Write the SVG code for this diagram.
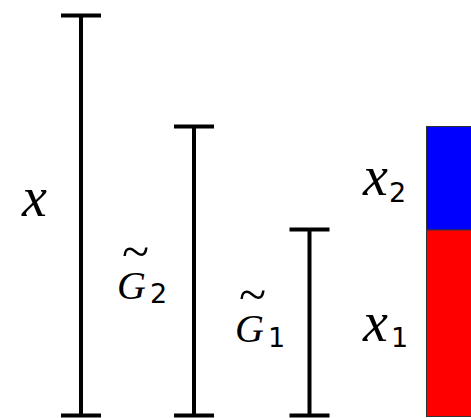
<svg xmlns="http://www.w3.org/2000/svg" width="471" height="418" viewBox="0 0 471 418">
<rect width="471" height="418" fill="#fff"/>
<g id="connectors" stroke="#000" stroke-width="4" fill="none">
<g id="bar-x"><path d="M61 15.5H101M81 15.5V415.5M61 415.5H101"/></g>
<g id="bar-G2"><path d="M174 126.5H214M194 126.5V415.5M174 415.5H214"/></g>
<g id="bar-G1"><path d="M289.5 229.5H329.5M309.5 229.5V415.5M289.5 415.5H329.5"/></g>
</g>
<text id="label-x" x="22" y="216" font-size="56" font-family="Liberation Serif, serif" font-style="italic">x</text>
<text id="label-G2" font-family="Liberation Serif, serif" font-size="40"><tspan x="122" y="268" font-size="50">~</tspan><tspan x="117" y="299" font-style="italic">G</tspan><tspan x="150" y="303" font-size="27" font-family="DejaVu Sans, sans-serif">2</tspan></text>
<text id="label-G1" font-family="Liberation Serif, serif" font-size="40"><tspan x="239" y="311" font-size="50">~</tspan><tspan x="235" y="342" font-style="italic">G</tspan><tspan x="268" y="347" font-size="27" font-family="DejaVu Sans, sans-serif">1</tspan></text>
<text id="label-x2" font-family="Liberation Serif, serif" font-size="56"><tspan x="363" y="195" font-style="italic">x</tspan><tspan x="389" y="202" font-size="27" font-family="DejaVu Sans, sans-serif">2</tspan></text>
<text id="label-x1" font-family="Liberation Serif, serif" font-size="56"><tspan x="363" y="341" font-style="italic">x</tspan><tspan x="391" y="347" font-size="27" font-family="DejaVu Sans, sans-serif">1</tspan></text>
<g id="stack" stroke="#333" stroke-width="1">
<rect x="426.5" y="126.5" width="50" height="103.5" fill="#0000ff"/>
<rect x="426.5" y="230" width="50" height="186.5" fill="#ff0000"/>
</g>
</svg>
